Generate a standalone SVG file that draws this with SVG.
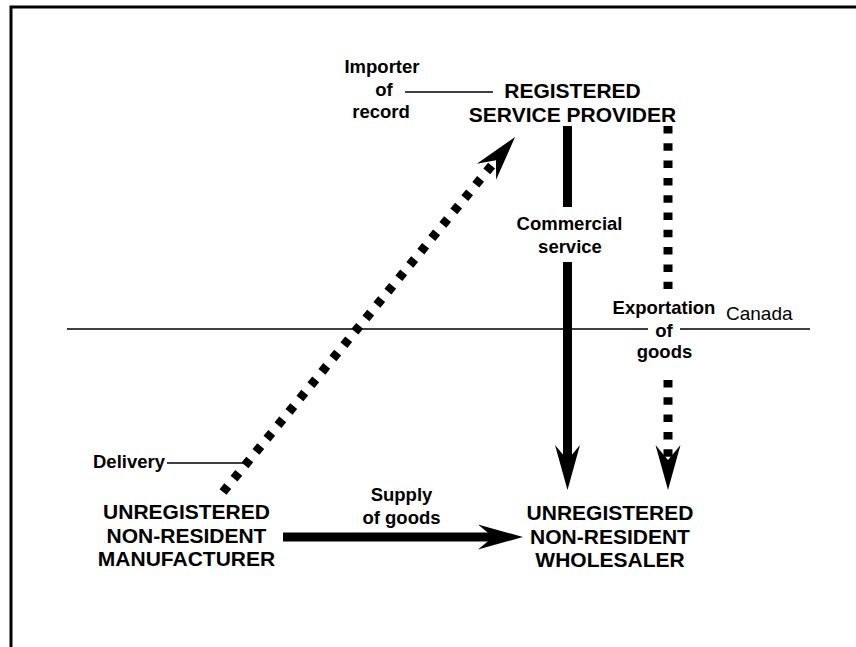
<svg xmlns="http://www.w3.org/2000/svg" width="856" height="647" viewBox="0 0 856 647">
<style>
text{font-family:"Liberation Sans",Arial,sans-serif;fill:#000;}
.node{font-size:21px;font-weight:bold;text-anchor:middle;}
.lbl{font-size:18.5px;font-weight:bold;text-anchor:middle;}
.thin{stroke:#000;stroke-width:1.5;fill:none;}
.solid{stroke:#000;stroke-width:9;fill:none;}
.dot{stroke:#000;stroke-width:9;fill:none;stroke-dasharray:7.5 9.8;}
</style>
<defs>
<marker id="head" markerUnits="userSpaceOnUse" orient="auto" overflow="visible" refX="0" refY="0" markerWidth="1" markerHeight="1">
<path d="M30,0 L-15,-12.5 L0,0 L-15,12.5 Z" fill="#000"/>
</marker>
</defs>
<rect width="856" height="647" fill="#fff"/>
<path d="M11,647 V7 H856" stroke="#000" stroke-width="3" fill="none"/>
<g id="canada-border">
<path class="thin" d="M67,329 H648 M680,329 H810"/>
<text x="726" y="320" font-size="19">Canada</text>
</g>
<g id="connectors">
<path class="solid" d="M567.5,126 V207"/>
<path class="solid" d="M567.5,262 V460" marker-end="url(#head)"/>
<path class="dot" d="M668,126 V289"/>
<path class="dot" d="M668,380 V460" marker-end="url(#head)"/>
<path class="dot" d="M223,492 L496,160.2" marker-end="url(#head)"/>
<path class="solid" d="M283,537 H493" marker-end="url(#head)"/>
<path class="thin" d="M405,92 H493"/>
<path class="thin" d="M167,463 H243"/>
</g>
<g id="registered-service-provider">
<text class="node" x="572.5" y="98">REGISTERED</text>
<text class="node" x="572.5" y="121.7">SERVICE PROVIDER</text>
</g>
<g id="manufacturer">
<text class="node" x="186.5" y="519">UNREGISTERED</text>
<text class="node" x="186.5" y="542.5">NON-RESIDENT</text>
<text class="node" x="186.5" y="566">MANUFACTURER</text>
</g>
<g id="wholesaler">
<text class="node" x="610" y="520">UNREGISTERED</text>
<text class="node" x="610" y="543.5">NON-RESIDENT</text>
<text class="node" x="610" y="567">WHOLESALER</text>
</g>
<g id="labels">
<text class="lbl" x="382" y="73">Importer</text>
<text class="lbl" x="384" y="96">of</text>
<text class="lbl" x="381" y="118">record</text>
<text class="lbl" x="569.5" y="230">Commercial</text>
<text class="lbl" x="570" y="252.7">service</text>
<text class="lbl" x="664" y="314">Exportation</text>
<text class="lbl" x="664" y="336.7">of</text>
<text class="lbl" x="664.5" y="358">goods</text>
<text class="lbl" x="93" y="468" style="text-anchor:start">Delivery</text>
<text class="lbl" x="401.5" y="501">Supply</text>
<text class="lbl" x="401.5" y="524">of goods</text>
</g>
</svg>
